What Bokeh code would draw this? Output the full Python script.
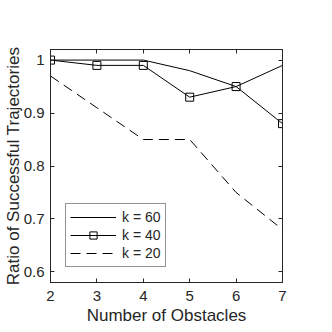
from bokeh.plotting import figure
from bokeh.models import (Range1d, LinearAxis, FixedTicker, Legend, LegendItem,
                          CustomJSTickFormatter)
from bokeh.embed import file_html
from bokeh.resources import INLINE

obstacles = [2, 3, 4, 5, 6, 7]
k60 = [1.00, 1.00, 1.00, 0.98, 0.95, 0.99]
k40 = [1.00, 0.99, 0.99, 0.93, 0.95, 0.88]
k20 = [0.97, 0.91, 0.85, 0.85, 0.75, 0.68]
x_ticks = [2, 3, 4, 5, 6, 7]
y_ticks = [0.6, 0.7, 0.8, 0.9, 1.0]
x_label = "Number of Obstacles"
y_label = "Ratio of Successful Trajectories"
FONT = "Liberation Sans"
AX = "#262626"

p = figure(width=332, height=332, output_backend="svg", toolbar_location=None,
           x_range=Range1d(2, 7), y_range=Range1d(0.58, 1.02),
           min_border_left=49, min_border_right=50,
           min_border_top=49, min_border_bottom=50,
           x_axis_type=None, y_axis_type=None)
p.grid.visible = False
p.outline_line_color = AX
p.outline_line_width = 1
p.background_fill_color = "white"
p.border_fill_color = "white"

def style_axis(ax, ticks, show_labels):
    ax.ticker = FixedTicker(ticks=ticks)
    ax.minor_tick_line_color = None
    ax.major_tick_in = 4
    ax.major_tick_out = 0
    ax.major_tick_line_color = AX
    ax.axis_line_color = AX
    ax.major_label_text_font = FONT
    ax.major_label_text_font_size = "15px"
    ax.major_label_text_color = AX
    ax.axis_label_text_font = FONT
    ax.axis_label_text_font_size = "17px"
    ax.axis_label_text_font_style = "normal"
    ax.axis_label_text_color = AX
    if not show_labels:
        ax.formatter = CustomJSTickFormatter(code="return ''")
        ax.major_label_standoff = 0

xb = LinearAxis(axis_label=x_label)
style_axis(xb, x_ticks, True)
xb.major_label_standoff = 8
xb.axis_label_standoff = 2
p.add_layout(xb, "below")

yl = LinearAxis(axis_label=y_label)
style_axis(yl, y_ticks, True)
yl.major_label_standoff = 6
yl.axis_label_standoff = -2
p.add_layout(yl, "left")

xt = LinearAxis()
style_axis(xt, x_ticks, False)
p.add_layout(xt, "above")

yr = LinearAxis()
style_axis(yr, y_ticks, False)
p.add_layout(yr, "right")

r60 = p.line(obstacles, k60, line_color="black", line_width=1)
r40 = p.line(obstacles, k40, line_color="black", line_width=1)
s40 = p.scatter(obstacles, k40, marker="square", size=8, fill_color=None,
                line_color="black", line_width=1)
r20 = p.line(obstacles, k20, line_color="black", line_width=1, line_dash="10 6")

legend = Legend(items=[
    LegendItem(label="k = 60", renderers=[r60]),
    LegendItem(label="k = 40", renderers=[r40, s40]),
    LegendItem(label="k = 20", renderers=[r20]),
], location=(15, 15))
legend.margin = 0
legend.padding = 4
legend.spacing = 0
legend.glyph_width = 46
legend.glyph_height = 18
legend.label_height = 18
legend.label_standoff = 6
legend.label_text_font = FONT
legend.label_text_font_size = "14px"
legend.label_text_color = AX
legend.border_line_color = AX
legend.border_line_width = 1
legend.background_fill_color = "white"
legend.background_fill_alpha = 1
p.add_layout(legend, "center")

open("out.html", "w").write(file_html(p, INLINE))
